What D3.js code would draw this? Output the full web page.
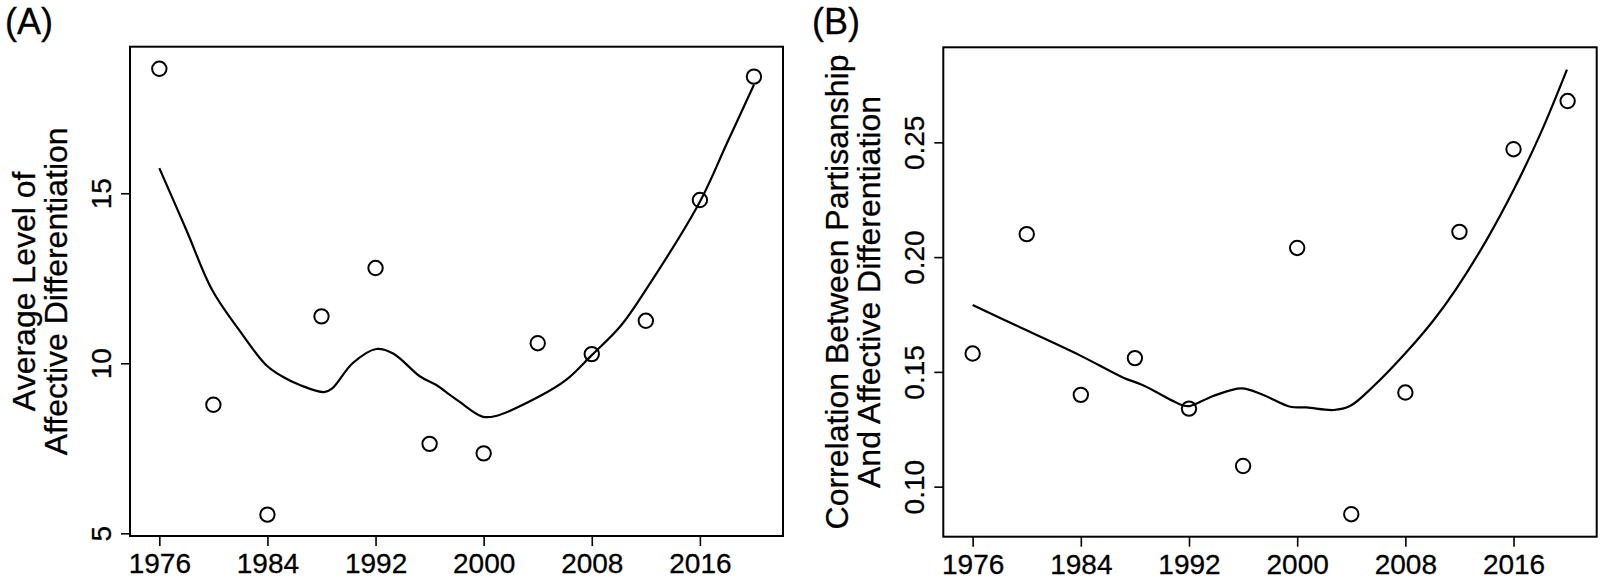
<!DOCTYPE html>
<html>
<head>
<meta charset="utf-8">
<script src="https://cdn.jsdelivr.net/npm/d3@7"></script>
<style>
  body { margin: 0; background: #fff; }
  svg { display: block; font-family: "Liberation Sans", Arial, Helvetica, sans-serif; }
  svg text { stroke: #000; stroke-width: 0.3px; }
</style>
</head>
<body>
<div id="chart"></div>
<script>
// survey years
var years = [1976, 1980, 1984, 1988, 1992, 1996, 2000, 2004, 2008, 2012, 2016, 2020];

// (A) average level of affective differentiation
var levelA = [18.66, 8.78, 5.55, 11.38, 12.80, 7.63, 7.35, 10.59, 10.27, 11.25, 14.80, 18.43];
// loess line
var smoothYearsA = [1976, 1978, 1979.9, 1981.9, 1983.9, 1985.1, 1986.4, 1988.2, 1988.8, 1990.3,
  1992.05, 1993.3, 1995.3, 1996.5, 1997.5, 1998.2, 1999.9, 2000.9, 2004.1, 2006.1, 2008,
  2010.1, 2012, 2016, 2018, 2020];
var smoothA = [15.74, 13.92, 12.16, 10.98, 9.95, 9.61, 9.36, 9.15, 9.26, 10.0,
  10.42, 10.29, 9.61, 9.36, 9.07, 8.87, 8.43, 8.45, 9.02, 9.51, 10.24,
  11.08, 12.16, 14.75, 16.47, 18.19];

// (B) correlation between partisanship and affective differentiation
var corrB = [0.158, 0.210, 0.140, 0.156, 0.134, 0.109, 0.204, 0.088, 0.141, 0.211, 0.247, 0.268];
var smoothYearsB = [1976, 1979.7, 1983.9, 1987.1, 1988.6, 1991.5, 1992.05, 1993.8, 1995.9, 1997.5,
  1999.5, 2000.7, 2002.7, 2003.9, 2005.6, 2008, 2010.1, 2011.7, 2014, 2016, 2018, 2019.95];
var smoothB = [0.1791, 0.1689, 0.1573, 0.1476, 0.1442, 0.1355, 0.1351, 0.1395, 0.1428, 0.1399,
  0.1348, 0.1345, 0.1334, 0.1351, 0.1435, 0.1581, 0.1726, 0.1856, 0.2074, 0.2292, 0.2539, 0.2817];

// tick labels
var xTicks = [1976, 1984, 1992, 2000, 2008, 2016];
var yTicksA = [5, 10, 15];
var yTicksB = [0.10, 0.15, 0.20, 0.25];

var width = 1604, height = 581;

var svg = d3.select('#chart')
  .append('svg')
  .attr('width', width)
  .attr('height', height);

function panel(opts) {
  var x = d3.scaleLinear().domain([1973.83, 2022.15]).range([opts.left, opts.right]);
  var y = d3.scaleLinear().domain(opts.yDomain).range([opts.bottom, opts.top]);
  var g = svg.append('g');

  // x axis
  var xAxis = d3.axisBottom(x).tickValues(xTicks).tickSize(10).tickFormat(d3.format('d'));
  var xg = g.append('g')
    .attr('transform', 'translate(0,' + opts.bottom + ')')
    .call(xAxis);
  xg.select('.domain').remove();
  xg.selectAll('line').attr('stroke', '#000').attr('stroke-width', 1.6);
  xg.selectAll('text')
    .attr('y', 37)
    .attr('dy', 0)
    .attr('fill', '#000')
    .style('font-size', '28px');

  // y axis, labels turned like base R
  var yAxis = d3.axisLeft(y).tickValues(opts.yTicks).tickSize(9).tickFormat(opts.yFormat);
  var yg = g.append('g')
    .attr('transform', 'translate(' + opts.left + ',0)')
    .call(yAxis);
  yg.select('.domain').remove();
  yg.selectAll('line').attr('stroke', '#000').attr('stroke-width', 1.6);
  yg.selectAll('text')
    .attr('x', 0)
    .attr('dy', 0)
    .attr('fill', '#000')
    .attr('text-anchor', 'middle')
    .attr('transform', 'translate(-19,0) rotate(-90)')
    .style('font-size', '28px');

  // frame
  g.append('rect')
    .attr('x', opts.left)
    .attr('y', opts.top)
    .attr('width', opts.right - opts.left)
    .attr('height', opts.bottom - opts.top)
    .attr('fill', 'none')
    .attr('stroke', '#000')
    .attr('stroke-width', 2);

  // axis title, two lines
  var midY = (opts.top + opts.bottom) / 2;
  opts.title.forEach(function(t, i) {
    g.append('text')
      .attr('transform', 'translate(' + (opts.left - 95 + i * 32) + ',' + midY + ') rotate(-90)')
      .attr('text-anchor', 'middle')
      .style('font-size', '32px')
      .attr('fill', '#000')
      .text(t);
  });

  // panel letter
  g.append('text')
    .attr('x', opts.letterX)
    .attr('y', 34)
    .style('font-size', '36px')
    .attr('fill', '#000')
    .text(opts.letter);

  // smooth line
  var line = d3.line()
    .x(d => x(d[0]))
    .y(d => y(d[1]))
    .curve(d3.curveCatmullRom.alpha(0.5));
  g.append('path')
    .datum(d3.zip(opts.smoothX, opts.smoothY))
    .attr('d', line)
    .attr('fill', 'none')
    .attr('stroke', '#000')
    .attr('stroke-width', 2.2);

  // points
  g.selectAll('circle')
    .data(d3.zip(years, opts.values))
    .enter()
    .append('circle')
    .attr('cx', d => x(d[0]))
    .attr('cy', d => y(d[1]))
    .attr('r', 7.2)
    .attr('fill', 'none')
    .attr('stroke', '#000')
    .attr('stroke-width', 2);
}

panel({
  left: 130, right: 783, top: 46.7, bottom: 536,
  yDomain: [4.92, 19.31],
  yTicks: yTicksA,
  yFormat: d3.format('d'),
  values: levelA,
  smoothX: smoothYearsA, smoothY: smoothA,
  title: ['Average Level of', 'Affective Differentiation'],
  letter: '(A)', letterX: 5
});

panel({
  left: 943.3, right: 1596.7, top: 47.3, bottom: 536.7,
  yDomain: [0.0782, 0.2914],
  yTicks: yTicksB,
  yFormat: d3.format('.2f'),
  values: corrB,
  smoothX: smoothYearsB, smoothY: smoothB,
  title: ['Correlation Between Partisanship', 'And Affective Differentiation'],
  letter: '(B)', letterX: 812
});
</script>
</body>
</html>
